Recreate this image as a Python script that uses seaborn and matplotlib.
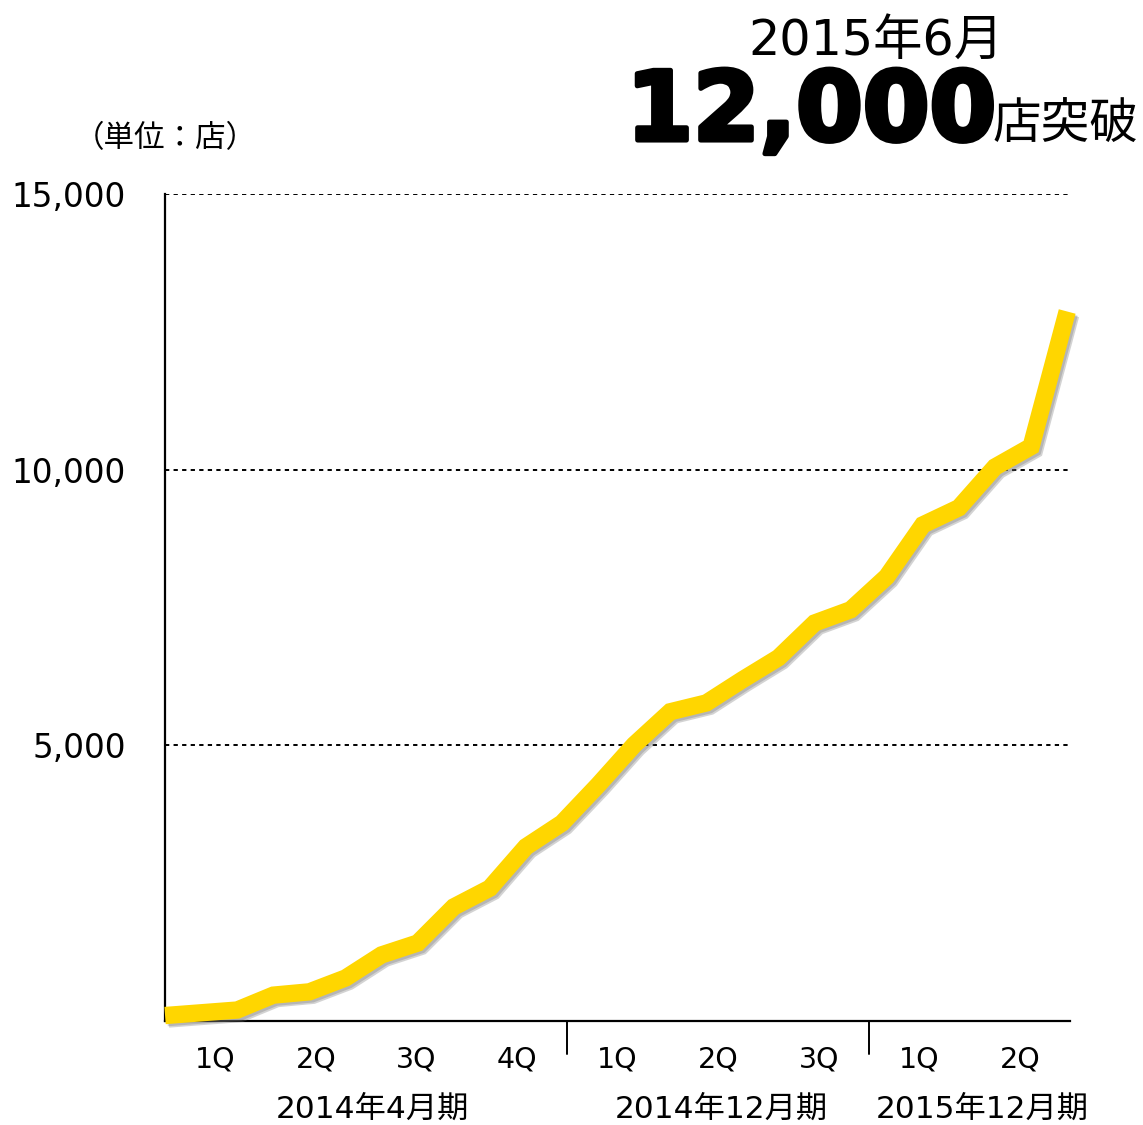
import numpy as np
import pandas as pd
import matplotlib
matplotlib.use('Agg')
import matplotlib.pyplot as plt
import matplotlib.patheffects as pe
import seaborn as sns

# store count, one point per step
stores = [100, 150, 200, 470, 530, 780, 1200, 1415, 2070, 2410, 3160, 3590, 4280,
          5010, 5610, 5770, 6190, 6590, 7220, 7460, 8060, 9000, 9310, 10050, 10420, 12870]
quarters = ['1Q', '2Q', '3Q', '4Q', '1Q', '2Q', '3Q', '1Q', '2Q']
periods = ['2014年4月期', '2014年12月期', '2015年12月期']
period_quarters = [4, 3, 2]
yticks = [5000, 10000, 15000]

df = pd.DataFrame({'step': np.arange(len(stores)), 'stores': stores})

sns.set_style('white')
plt.rcParams['font.family'] = ['DejaVu Sans', 'Noto Sans CJK JP']
plt.rcParams['text.color'] = 'black'
plt.rcParams['ytick.color'] = 'black'

fig = plt.figure(figsize=(11.43, 11.25), dpi=100)
ax = fig.add_axes([0.1444, 0.0924, 0.7918, 0.7351])

xmax = 25.08
qw = xmax / len(quarters)

# soft drop shadow under the yellow line
sns.lineplot(data=df, x='step', y='stores', ax=ax, color='#FFD600', linewidth=12.5,
             solid_capstyle='butt', solid_joinstyle='miter', clip_on=False,
             path_effects=[pe.SimpleLineShadow(offset=(2.5, -2.5), shadow_color='#707070', alpha=0.3),
                           pe.SimpleLineShadow(offset=(1.5, -1.5), shadow_color='#707070', alpha=0.3),
                           pe.Normal()], zorder=3)

ax.set_xlim(0, xmax)
ax.set_ylim(0, 15000)

for v in yticks:
    ax.axhline(v, color='black', linestyle=(0, (2.2, 2.2)), linewidth=1.4, zorder=1)

ax.set_yticks(yticks)
ax.set_yticklabels([f'{v:,}' for v in yticks], fontsize=23.5)
ax.tick_params(axis='y', length=0, pad=28, labelcolor='black')
ax.set_xticks([])
ax.set_xlabel('')
ax.set_ylabel('')

for s in ['top', 'right']:
    ax.spines[s].set_visible(False)
for s in ['left', 'bottom']:
    ax.spines[s].set_color('black')
    ax.spines[s].set_linewidth(1.6)

trans = ax.get_xaxis_transform()
for i, q in enumerate(quarters):
    ax.text((i + 0.5) * qw, -0.047, q, transform=trans, ha='center', va='center', fontsize=20.5)

start = 0
period_centers = []
for n in period_quarters:
    period_centers.append((start + n / 2) * qw)
    start += n
    if start < len(quarters):
        ax.plot([start * qw, start * qw], [0, -0.04], transform=trans, color='black',
                linewidth=1.4, clip_on=False)
period_centers[0] += 0.17
period_centers[1] += 0.1
period_centers[-1] += 0.35
for c, p in zip(period_centers, periods):
    ax.text(c, -0.107, p, transform=trans, ha='center', va='center', fontsize=22.5)

fig.text(0.1445, 0.877, '（単位：店）', ha='center', va='center', fontsize=22,
         family=['Noto Sans CJK JP', 'DejaVu Sans'])
fig.text(0.766, 0.964, '2015年6月', ha='center', va='center', fontsize=35.5)
fig.text(0.548, 0.899, '12,000', ha='left', va='center', fontsize=69, fontweight='bold',
         path_effects=[pe.withStroke(linewidth=3.5, foreground='black')])
fig.text(0.868, 0.889, '店突破', ha='left', va='center', fontsize=35,
         family=['Noto Sans CJK JP', 'DejaVu Sans'])

fig.savefig('out.png', dpi=100)
